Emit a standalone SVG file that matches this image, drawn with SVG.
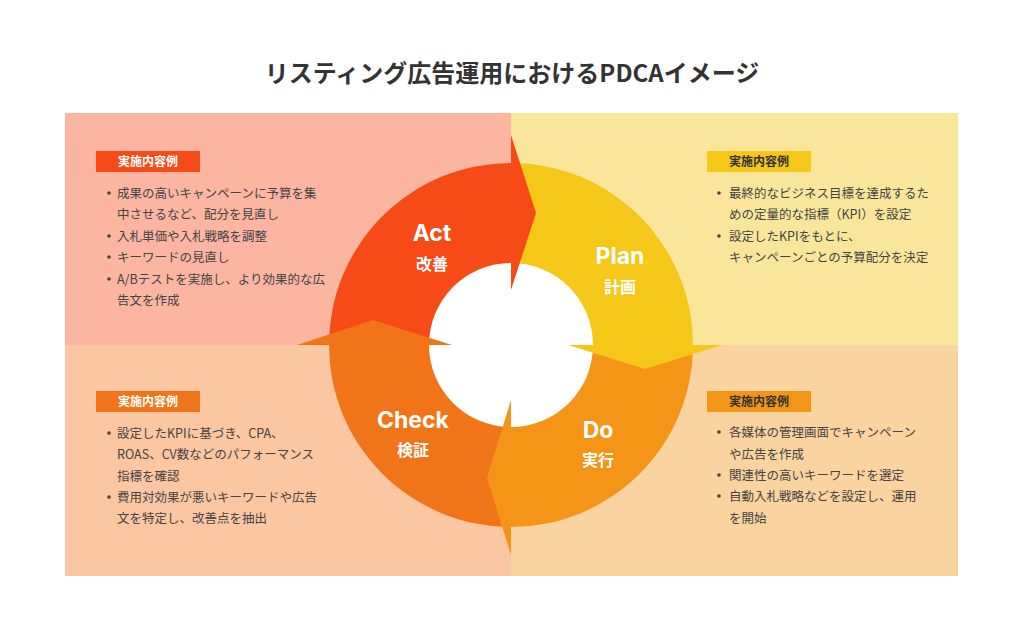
<svg xmlns="http://www.w3.org/2000/svg" width="1024" height="617" viewBox="0 0 1024 617">
<style>
.t{font-family:"Noto Sans CJK JP","Liberation Sans",sans-serif;}
.title{font-size:24px;font-weight:bold;fill:#333;}
.b{font-size:12.5px;fill:#444;}
.tag{font-size:12px;font-weight:bold;}
.en{font-family:Inter,"Liberation Sans",sans-serif;font-size:23px;font-weight:bold;fill:#fff;}
.jp{font-size:16px;font-weight:bold;fill:#fff;}
</style>
<rect width="1024" height="617" fill="#fff"/>
<text class="t title" x="512" y="82" text-anchor="middle">リスティング広告運用におけるPDCAイメージ</text>
<g id="bg">
<rect x="65" y="113" width="446" height="232" fill="#FBB5A0"/>
<rect x="511" y="113" width="447" height="232" fill="#FAE69B"/>
<rect x="65" y="345" width="446" height="231" fill="#FBC6A2"/>
<rect x="511" y="345" width="447" height="231" fill="#F9D3A0"/>
</g>
<g id="cycle">
<path d="M511 345 L511 163 A182 182 0 0 1 693 345 Z" fill="#F4C718"/>
<path d="M511 345 L693 345 A182 182 0 0 1 511 527 Z" fill="#F59518"/>
<path d="M511 345 L511 527 A182 182 0 0 1 329 345 Z" fill="#F27418"/>
<path d="M511 345 L329 345 A182 182 0 0 1 511 163 Z" fill="#F64A17"/>
<circle cx="511" cy="345" r="82" fill="#fff"/>
</g>
<g id="connectors">
<polygon points="511,135 536,213 511,290" fill="#F64A17"/>
<polygon points="568,345 722,345 645,369" fill="#F4C718"/>
<polygon points="511,400 511,555 487,478" fill="#F59518"/>
<polygon points="297,345 452,345 373,320" fill="#F27418"/>
</g>
<g id="act"><text class="en" x="432" y="241" text-anchor="middle">Act</text><text class="t jp" x="432" y="270" text-anchor="middle">改善</text></g>
<g id="plan"><text class="en" x="620" y="264" text-anchor="middle">Plan</text><text class="t jp" x="620" y="293" text-anchor="middle">計画</text></g>
<g id="check"><text class="en" x="413" y="428" text-anchor="middle">Check</text><text class="t jp" x="413" y="456" text-anchor="middle">検証</text></g>
<g id="do"><text class="en" x="598" y="438" text-anchor="middle">Do</text><text class="t jp" x="598" y="466" text-anchor="middle">実行</text></g>
<g id="actText">
<rect x="96" y="151" width="104" height="21" fill="#F64A17"/>
<text class="t tag" x="148" y="166" text-anchor="middle" fill="#fff">実施内容例</text>
<g class="t b">
<circle cx="109" cy="193" r="1.8" fill="#444"/><text x="117" y="198">成果の高いキャンペーンに予算を集</text>
<text x="117" y="219">中させるなど、配分を見直し</text>
<circle cx="109" cy="236" r="1.8" fill="#444"/><text x="117" y="241">入札単価や入札戦略を調整</text>
<circle cx="109" cy="257" r="1.8" fill="#444"/><text x="117" y="262">キーワードの見直し</text>
<circle cx="109" cy="279" r="1.8" fill="#444"/><text x="117" y="284">A/Bテストを実施し、より効果的な広</text>
<text x="117" y="305">告文を作成</text>
</g></g>
<g id="planText">
<rect x="707" y="151" width="104" height="21" fill="#F4C718"/>
<text class="t tag" x="759" y="166" text-anchor="middle" fill="#333">実施内容例</text>
<g class="t b">
<circle cx="719" cy="193" r="1.8" fill="#444"/><text x="729" y="198">最終的なビジネス目標を達成するた</text>
<text x="729" y="219">めの定量的な指標（KPI）を設定</text>
<circle cx="719" cy="236" r="1.8" fill="#444"/><text x="729" y="241">設定したKPIをもとに、</text>
<text x="729" y="262">キャンペーンごとの予算配分を決定</text>
</g></g>
<g id="checkText">
<rect x="96" y="391" width="104" height="21" fill="#F27418"/>
<text class="t tag" x="148" y="406" text-anchor="middle" fill="#fff">実施内容例</text>
<g class="t b">
<circle cx="109" cy="433" r="1.8" fill="#444"/><text x="117" y="438">設定したKPIに基づき、CPA、</text>
<text x="117" y="459">ROAS、CV数などのパフォーマンス</text>
<text x="117" y="481">指標を確認</text>
<circle cx="109" cy="497" r="1.8" fill="#444"/><text x="117" y="502">費用対効果が悪いキーワードや広告</text>
<text x="117" y="523">文を特定し、改善点を抽出</text>
</g></g>
<g id="doText">
<rect x="707" y="391" width="104" height="21" fill="#F59518"/>
<text class="t tag" x="759" y="406" text-anchor="middle" fill="#333">実施内容例</text>
<g class="t b">
<circle cx="719" cy="432" r="1.8" fill="#444"/><text x="729" y="437">各媒体の管理画面でキャンペーン</text>
<text x="729" y="459">や広告を作成</text>
<circle cx="719" cy="475" r="1.8" fill="#444"/><text x="729" y="480">関連性の高いキーワードを選定</text>
<circle cx="719" cy="496" r="1.8" fill="#444"/><text x="729" y="501">自動入札戦略などを設定し、運用</text>
<text x="729" y="523">を開始</text>
</g></g>
</svg>
